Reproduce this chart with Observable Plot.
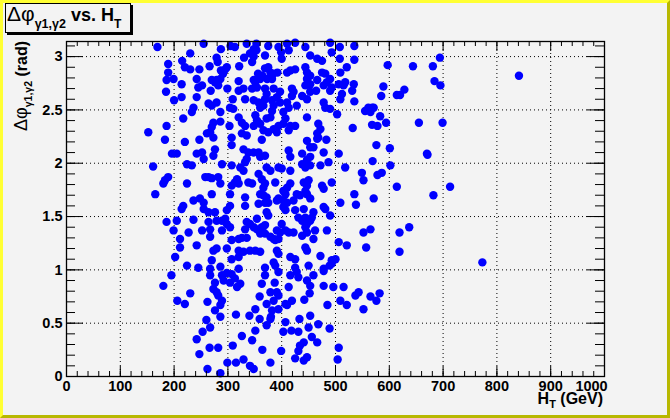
<!DOCTYPE html>
<html>
<head>
<meta charset="utf-8">
<script src="https://cdn.jsdelivr.net/npm/d3@7"></script>
<script src="https://cdn.jsdelivr.net/npm/@observablehq/plot@0.6"></script>
<style>
  html, body { margin: 0; padding: 0; background: #f3f3f3; }
  #wrap { position: relative; width: 670px; height: 418px; overflow: hidden; }
  #wrap svg { display: block; }
  #border { position: absolute; left: 0; top: 0; width: 670px; height: 418px; box-sizing: border-box;
            border: 3px solid; border-color: #ffff33 #b8b800 #b8b800 #ffff33; pointer-events: none; }
</style>
</head>
<body>
<div id="wrap"><div id="border"></div></div>
<script>
// H_T (GeV) of each event
const ht = [
169,255,230,287,279,281,305,313,335,353,348,353,330,341,348,369,375,394,399,400,410,413,425,444,453,466,475,490,493,508,508,
189,215,220,230,247,266,287,295,298,291,286,279,321,345,356,364,369,375,379,384,392,373,382,360,351,410,416,425,444,447,453,447,444,453,466,475,481,490,484,509,521,
189,199,186,214,242,245,252,270,276,282,299,320,329,320,348,345,354,369,372,369,385,382,385,382,397,391,397,419,419,422,438,447,453,464,478,490,493,506,515,518,
185,214,242,268,309,332,348,357,360,366,410,413,428,478,481,490,509,512,200,236,233,264,270,279,286,304,310,320,326,332,351,354,348,360,372,379,366,375,385,394,391,403,407,403,416,425,413,447,468,472,466,468,503,
217,186,273,270,267,261,273,286,303,326,335,307,183,220,247,276,307,329,338,363,357,348,413,447,453,459,466,483,478,506,196,205,242,252,
535,535,534,531,535,597,644,681,694,589,585,614,620,628,684,695,555,561,568,565,571,583,568,578,594,655,699,532,576,601,670,
273,360,369,335,416,438,453,447,161,224,233,255,289,307,323,329,332,372,379,394,400,416,438,444,453,472,487,518,
183,189,180,224,258,264,270,282,286,307,313,317,320,338,345,357,363,369,366,388,410,403,416,441,447,450,475,478,493,
165,270,304,332,360,366,372,375,369,391,394,407,403,410,403,407,422,428,434,444,447,453,478,481,509,
217,214,236,248,255,255,264,276,298,304,332,372,375,357,425,441,459,444,456,431,438,447,453,490,
186,205,236,264,267,279,289,295,298,289,304,335,341,332,354,348,354,363,369,366,360,369,391,397,407,413,422,400,444,447,462,484,
199,227,252,211,267,307,320,326,335,379,385,388,394,438,459,506,521,211,242,279,298,273,320,329,341,351,360,307,320,391,394,416,425,444,447,472,493,500,
202,270,224,245,267,286,320,369,385,388,425,450,478,493,
569,602,671,549,552,578,586,614,682,713,535,538,571,552,565,619,637,557,619,773,
267,289,298,307,292,304,313,323,317,195,180,276,273,279,282,289,286,230,206,220,262,276,286,315,340,351,359,363,369,394,387,379,391,394,372,385,382,394,380,413,407,419,410,416,428,431,447,453,459,478,478,496,515,452,442,485,509,521,
260,267,253,242,247,266,282,262,286,299,309,315,326,329,341,348,345,351,359,372,379,364,379,399,407,403,418,431,433,453,468,450,456,466,441,434,431,425,441,447,489,506,504,
537,543,565,576,582,552,489,841,152
];
// delta phi between the two photons (rad), same order as ht
const dphi = [
3.09,3.12,3.03,3.07,2.99,2.95,3.10,3.09,3.12,3.12,3.07,3.06,2.99,3.03,3.00,3.01,3.10,3.09,3.04,2.98,3.12,3.06,3.13,3.09,3.01,2.98,2.96,3.13,3.04,3.09,2.98,
2.93,2.96,2.90,2.88,2.88,2.91,2.87,2.88,2.90,2.84,2.79,2.78,2.91,2.95,2.84,2.82,2.89,2.90,2.85,2.84,2.85,2.79,2.79,2.79,2.76,2.85,2.87,2.88,2.90,2.85,2.82,2.79,2.73,2.74,2.78,2.85,2.84,2.79,2.76,2.85,2.90,
2.85,2.79,2.78,2.74,2.79,2.71,2.73,2.78,2.76,2.73,2.70,2.77,2.70,2.68,2.78,2.70,2.71,2.70,2.65,2.60,2.70,2.59,2.54,2.49,2.67,2.62,2.57,2.70,2.63,2.67,2.63,2.60,2.67,2.68,2.73,2.68,2.71,2.74,2.73,2.76,
2.67,2.62,2.62,2.68,2.60,2.60,2.59,2.57,2.52,2.54,2.57,2.52,2.54,2.57,2.52,2.51,2.60,2.65,2.59,2.52,2.48,2.56,2.54,2.57,2.48,2.52,2.51,2.43,2.38,2.35,2.45,2.40,2.35,2.37,2.42,2.43,2.31,2.29,2.32,2.35,2.29,2.48,2.42,2.37,2.35,2.35,2.31,2.43,2.37,2.32,2.28,2.24,2.46,
2.42,2.35,2.38,2.34,2.29,2.28,2.24,2.39,2.35,2.28,2.26,2.24,2.22,2.20,2.22,2.13,2.17,2.13,2.10,2.22,2.10,2.10,2.12,2.21,2.15,2.15,2.23,2.22,2.10,2.09,2.09,2.09,2.09,2.10,
3.10,2.97,2.74,2.68,2.58,2.92,2.91,2.91,2.99,2.72,2.63,2.64,2.64,2.69,2.77,2.73,2.49,2.52,2.52,2.48,2.52,2.44,2.36,2.35,2.38,2.38,2.38,2.33,2.17,2.14,2.09,
2.07,2.06,2.07,2.04,2.06,2.09,2.06,2.03,1.97,1.99,1.98,2.04,1.99,1.98,1.96,1.93,2.01,1.96,1.93,1.96,1.95,1.93,1.99,1.96,1.98,1.98,2.01,1.96,
1.84,1.87,1.81,1.81,1.87,1.87,1.86,1.87,1.81,1.79,1.82,1.85,1.81,1.82,1.81,1.90,1.85,1.81,1.77,1.82,1.77,1.74,1.81,1.82,1.79,1.84,1.79,1.76,1.82,
1.71,1.71,1.71,1.68,1.71,1.70,1.68,1.63,1.63,1.65,1.67,1.71,1.65,1.63,1.59,1.56,1.65,1.71,1.70,1.74,1.71,1.67,1.59,1.57,1.63,
1.60,1.57,1.65,1.67,1.63,1.57,1.54,1.54,1.56,1.60,1.60,1.54,1.51,1.62,1.56,1.57,1.54,1.49,1.49,1.49,1.46,1.43,1.46,1.51,
1.45,1.46,1.47,1.45,1.38,1.46,1.46,1.48,1.43,1.37,1.40,1.45,1.43,1.38,1.48,1.40,1.38,1.40,1.42,1.35,1.34,1.34,1.37,1.35,1.37,1.35,1.35,1.43,1.40,1.35,1.37,1.37,
1.37,1.35,1.37,1.29,1.31,1.28,1.29,1.30,1.30,1.31,1.29,1.28,1.29,1.32,1.29,1.26,1.23,1.21,1.23,1.20,1.20,1.18,1.18,1.17,1.18,1.18,1.17,1.10,1.12,1.18,1.15,1.12,1.10,1.21,1.18,1.13,1.09,1.10,
1.12,1.09,1.04,1.02,1.01,1.03,1.01,1.02,1.07,1.04,1.02,1.04,1.01,1.06,
2.02,1.98,2.08,1.91,1.84,1.89,1.91,1.78,1.70,1.78,1.71,1.61,1.67,1.35,1.38,1.35,1.40,1.21,1.17,1.07,
0.95,0.95,0.97,0.96,0.90,0.88,0.92,0.87,0.84,0.95,0.85,0.88,0.82,0.79,0.76,0.71,0.67,0.78,0.71,0.68,0.70,0.62,0.56,0.58,0.57,0.63,0.75,0.87,0.95,0.98,0.88,0.79,0.79,0.76,0.68,0.71,0.62,0.63,0.56,0.84,0.68,0.71,0.67,0.95,0.98,0.93,0.90,0.85,0.95,0.99,0.85,0.84,0.84,0.78,0.72,0.67,0.71,0.67,
0.53,0.46,0.42,0.35,0.21,0.27,0.27,0.07,0.03,0.13,0.29,0.13,0.38,0.16,0.10,0.07,0.34,0.43,0.54,0.48,0.54,0.25,0.13,0.24,0.51,0.42,0.43,0.42,0.54,0.57,0.49,0.46,0.37,0.32,0.32,0.29,0.24,0.17,0.15,0.18,0.45,0.27,0.16,
0.76,0.79,0.75,0.71,0.78,0.63,1.04,2.82,2.29
];

const xTickLabels = [0, 100, 200, 300, 400, 500, 600, 700, 800, 900];
const xLastTickLabel = [1000];
const xMajorTicks = [0, 100, 200, 300, 400, 500, 600, 700, 800, 900, 1000];
const yTickLabels = [0, 0.5, 1, 1.5, 2, 2.5, 3];
const xGridLines = [100, 200, 300, 400, 500, 600, 700, 800, 900];
const yGridLines = [0.5, 1, 1.5, 2, 2.5, 3];
const xMinorTicks = d3.range(0, 1001, 20);
const yMinorTicks = d3.range(0, 3.15, 0.1);

const W = 670, H = 418, mL = 66, mR = 66, mT = 41, mB = 42;
const fw = W - mL - mR, fh = H - mT - mB;
const events = ht.map((x, i) => ({ht: x, dphi: dphi[i]}));

const FONT = "'Liberation Sans', Arial, sans-serif";
const dotted = {stroke: "black", strokeOpacity: 1, strokeWidth: 1, strokeDasharray: "1,3"};
const labelStyle = {tickSize: 0, fontSize: 14.5, fontWeight: "bold", tickFormat: d => String(d), label: null};
const chart = Plot.plot({
  width: W, height: H,
  marginLeft: mL, marginRight: mR, marginTop: mT, marginBottom: mB,
  style: {background: "#f3f3f3", color: "black", fontFamily: FONT, fontWeight: "bold"},
  x: {domain: [0, 1000]},
  y: {domain: [0, Math.PI]},
  marks: [
    Plot.gridX(xGridLines, dotted),
    Plot.gridY(yGridLines, dotted),
    Plot.dot(events, {x: "ht", y: "dphi", r: 4.2, fill: "#0000ff"}),
    // bottom & top ticks
    Plot.tickX(xMajorTicks, {x: d => d, insetTop: fh - 10, stroke: "black"}),
    Plot.tickX(xMajorTicks, {x: d => d, insetBottom: fh - 10, stroke: "black"}),
    Plot.tickX(xMinorTicks, {x: d => d, insetTop: fh - 5, stroke: "black"}),
    Plot.tickX(xMinorTicks, {x: d => d, insetBottom: fh - 5, stroke: "black"}),
    // left & right ticks
    Plot.tickY(yTickLabels, {y: d => d, insetRight: fw - 17, stroke: "black"}),
    Plot.tickY(yTickLabels, {y: d => d, insetLeft: fw - 17, stroke: "black"}),
    Plot.tickY(yMinorTicks, {y: d => d, insetRight: fw - 9, stroke: "black"}),
    Plot.tickY(yMinorTicks, {y: d => d, insetLeft: fw - 9, stroke: "black"}),
    Plot.frame({stroke: "black", strokeWidth: 1.3}),
    Plot.axisX(xTickLabels, {...labelStyle, tickPadding: 4}),
    Plot.axisX(xLastTickLabel, {...labelStyle, tickPadding: 4, dx: -13}),
    Plot.axisY(yTickLabels, {...labelStyle, tickPadding: 4})
  ]
});

const wrap = document.getElementById("wrap");
wrap.insertBefore(chart, wrap.firstChild);

const svg = d3.select(chart);

// Title box
const tg = svg.append("g").attr("text-anchor", "start");
tg.append("rect").attr("x", 7).attr("y", 5).attr("width", 126).attr("height", 30).attr("fill", "black");
tg.append("rect").attr("x", 5.5).attr("y", 3.5).attr("width", 125).attr("height", 29)
  .attr("fill", "#f3f3f3").attr("stroke", "black").attr("stroke-width", 1);
const tt = tg.append("text").attr("x", 7).attr("y", 21).attr("text-anchor", "start").attr("font-family", FONT)
  .attr("font-size", 18).attr("font-weight", "bold").attr("fill", "black");
tt.append("tspan").attr("font-weight", "normal").attr("font-size", 21).text("Δφ");
tt.append("tspan").attr("font-size", 12.5).attr("dy", 7).text("γ1,γ2");
tt.append("tspan").attr("dy", -7).text(" vs. H");
tt.append("tspan").attr("font-size", 12).attr("dy", 7).text("T");

// X axis title
const xt = svg.append("text").attr("x", 603).attr("y", 404).attr("text-anchor", "end")
  .attr("font-family", FONT).attr("font-size", 16).attr("font-weight", "bold").attr("fill", "black");
xt.append("tspan").text("H");
xt.append("tspan").attr("font-size", 11).attr("dy", 4).text("T");
xt.append("tspan").attr("dy", -4).text(" (GeV)");

// Y axis title
const yt = svg.append("text").attr("transform", "translate(27,41) rotate(-90)").attr("text-anchor", "end")
  .attr("font-family", FONT).attr("font-size", 16).attr("font-weight", "bold").attr("fill", "black");
yt.append("tspan").attr("font-weight", "normal").attr("font-size", 18).text("Δφ");
yt.append("tspan").attr("font-size", 10.5).attr("dy", 5).text("γ1,γ2");
yt.append("tspan").attr("dy", -5).text(" (rad)");
</script>
</body>
</html>
